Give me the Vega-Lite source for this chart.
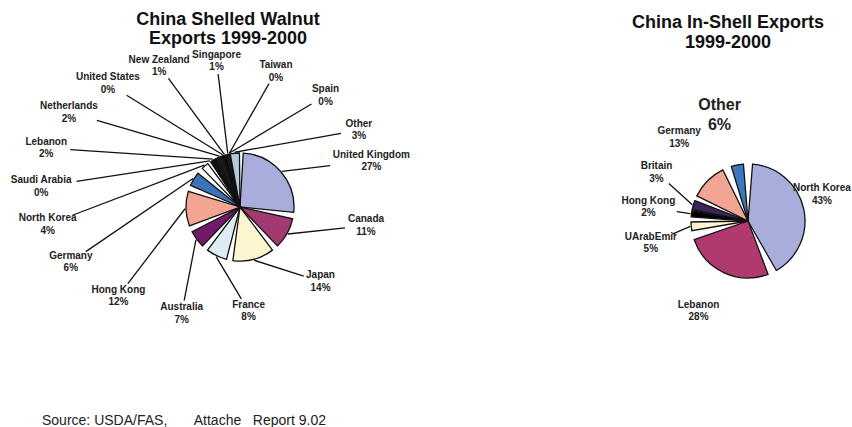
{
  "$schema": "https://vega.github.io/schema/vega-lite/v6.json",
  "background": "white",
  "padding": {"top": 10, "left": 0, "right": 0, "bottom": 0},
  "config": {
    "view": {"stroke": null, "fill": "white"},
    "font": "Liberation Sans"
  },
  "spacing": 164,
  "bounds": "flush",
  "resolve": {"scale": {"color": "independent", "x": "independent", "y": "independent", "theta": "independent"}},
  "title": {
    "text": "Source: USDA/FAS,\u00a0\u00a0\u00a0\u00a0\u00a0\u00a0 Attache\u00a0\u00a0 Report 9.02",
    "orient": "bottom",
    "anchor": "start",
    "frame": "bounds",
    "dx": 42,
    "offset": 24,
    "fontSize": 14,
    "fontWeight": "normal",
    "color": "#222"
  },
  "hconcat": [
    {
      "width": 480,
      "height": 310,
      "title": {
        "text": ["China Shelled Walnut", "Exports 1999-2000"],
        "frame": "group",
        "fontSize": 18,
        "fontWeight": "bold",
        "lineHeight": 19,
        "anchor": "middle",
        "dx": -12,
        "offset": 2,
        "color": "#111"
      },
      "data": {
        "values": [
          {"country": "United Kingdom", "share": 27},
          {"country": "Canada", "share": 11},
          {"country": "Japan", "share": 14},
          {"country": "France", "share": 8},
          {"country": "Australia", "share": 7},
          {"country": "Hong Kong", "share": 12},
          {"country": "Germany", "share": 6},
          {"country": "North Korea", "share": 4},
          {"country": "Saudi Arabia", "share": 0},
          {"country": "Lebanon", "share": 2},
          {"country": "Netherlands", "share": 2},
          {"country": "United States", "share": 0},
          {"country": "New Zealand", "share": 1},
          {"country": "Singapore", "share": 1},
          {"country": "Taiwan", "share": 0},
          {"country": "Spain", "share": 0},
          {"country": "Other", "share": 3}
        ]
      },
      "transform": [
        {"window": [{"op": "row_number", "as": "idx"}, {"op": "sum", "field": "share", "as": "cum"}], "frame": [null, 0]},
        {"joinaggregate": [{"op": "sum", "field": "share", "as": "total"}, {"op": "count", "as": "n"}]},
        {"calculate": "(datum.cum - datum.share) / datum.total", "as": "f0"},
        {"calculate": "datum.cum / datum.total", "as": "f1"},
        {"calculate": "PI * (datum.f0 + datum.f1)", "as": "mid"},
        {"calculate": "75 * PI / 180 + (datum.idx - 1) * 2 * PI / datum.n", "as": "u"},
        {"calculate": "datum.u + 0.4 * max(0, datum.mid - datum.u)", "as": "t0"},
        {"calculate": "datum.t0 - datum.idx * 18 * PI / 180", "as": "v"},
        {"window": [{"op": "max", "field": "v", "as": "vmax"}], "frame": [null, 0]},
        {"window": [{"op": "min", "field": "v", "as": "vmin"}], "frame": [0, null]},
        {"calculate": "datum.idx * 18 * PI / 180 + 0.65 * datum.vmax + 0.35 * datum.vmin", "as": "t"},
        {"calculate": "-33 + (165 + 20 * max(0, cos(datum.t))) * sin(datum.t)", "as": "lx"},
        {"calculate": "14 + (122 + 10 * max(0, cos(datum.t))) * cos(datum.t)", "as": "ly"},
        {"calculate": "55 * sin(datum.mid)", "as": "ex"},
        {"calculate": "55 * cos(datum.mid)", "as": "ey"},
        {"calculate": "sqrt(pow(datum.ex - datum.lx, 2) + pow(datum.ey - datum.ly, 2))", "as": "d"},
        {"calculate": "(datum.ex - datum.lx) / datum.d", "as": "ux"},
        {"calculate": "(datum.ey - datum.ly) / datum.d", "as": "uy"},
        {"calculate": "1 / sqrt(pow(datum.ux / (length(datum.country) * 2.9 + 4), 2) + pow(datum.uy / 13, 2))", "as": "g"},
        {"calculate": "datum.lx + datum.ux * datum.g", "as": "sx"},
        {"calculate": "datum.ly + datum.uy * datum.g", "as": "sy"},
        {"calculate": "datum.country + '\\n' + datum.share + '%'", "as": "label"}
      ],
      "layer": [
        {
          "mark": {"type": "arc", "radius": 54, "stroke": "#111", "strokeWidth": 1.3, "padAngle": {"expr": "datum.share >= 4 ? 0.12 : 0.02"}},
          "encoding": {
            "theta": {"field": "f0", "type": "quantitative", "stack": null, "scale": {"domain": [0, 1], "range": [0, 6.283185307]}},
            "theta2": {"field": "f1"},
            "color": {
              "field": "country",
              "type": "nominal",
              "legend": null,
              "scale": {
                "domain": ["United Kingdom", "Canada", "Japan", "France", "Australia", "Hong Kong", "Germany", "North Korea", "Saudi Arabia", "Lebanon", "Netherlands", "United States", "New Zealand", "Singapore", "Taiwan", "Spain", "Other"],
                "range": ["#a9addb", "#a23a72", "#fbf6d0", "#dcecf0", "#74196a", "#f1a592", "#3b73b9", "#ffffff", "#000000", "#111111", "#1a1a1a", "#000000", "#000000", "#222222", "#000000", "#000000", "#b5c9dc"]
              }
            }
          }
        },
        {
          "mark": {"type": "rule", "strokeWidth": 1.3, "color": "#111"},
          "encoding": {
            "x": {"field": "sx", "type": "quantitative", "axis": null, "scale": {"domain": [-240, 240], "nice": false, "zero": false}},
            "y": {"field": "sy", "type": "quantitative", "axis": null, "scale": {"domain": [-155, 155], "nice": false, "zero": false}},
            "x2": {"field": "ex"},
            "y2": {"field": "ey"}
          }
        },
        {
          "mark": {"type": "text", "fontSize": 10, "fontWeight": "bold", "lineBreak": "\n", "lineHeight": 12.5, "align": "center", "baseline": "middle", "dy": -6.25, "color": "#222"},
          "encoding": {
            "x": {"field": "lx", "type": "quantitative"},
            "y": {"field": "ly", "type": "quantitative"},
            "text": {"field": "label"}
          }
        }
      ]
    },
    {
      "width": 208,
      "height": 338,
      "title": {
        "text": ["China In-Shell Exports", "1999-2000"],
        "frame": "group",
        "fontSize": 18,
        "fontWeight": "bold",
        "lineHeight": 20,
        "anchor": "middle",
        "dx": -20,
        "offset": 0,
        "color": "#111"
      },
      "data": {
        "values": [
          {"country": "North Korea", "share": 43},
          {"country": "Lebanon", "share": 28},
          {"country": "UArabEmir", "share": 5},
          {"country": "Hong Kong", "share": 2},
          {"country": "Britain", "share": 3},
          {"country": "Germany", "share": 13},
          {"country": "Other", "share": 6}
        ]
      },
      "transform": [
        {"window": [{"op": "row_number", "as": "idx"}, {"op": "sum", "field": "share", "as": "cum"}], "frame": [null, 0]},
        {"joinaggregate": [{"op": "sum", "field": "share", "as": "total"}]},
        {"calculate": "(datum.cum - datum.share) / datum.total", "as": "f0"},
        {"calculate": "datum.cum / datum.total", "as": "f1"},
        {"calculate": "PI * (datum.f0 + datum.f1)", "as": "mid"},
        {"calculate": "datum.mid - datum.idx * 20 * PI / 180", "as": "v"},
        {"window": [{"op": "max", "field": "v", "as": "vmax"}], "frame": [null, 0]},
        {"window": [{"op": "min", "field": "v", "as": "vmin"}], "frame": [0, null]},
        {"calculate": "datum.idx * 20 * PI / 180 + (datum.vmax + datum.vmin) / 2", "as": "t"},
        {"calculate": "-12 + 88 * sin(datum.t)", "as": "lx"},
        {"calculate": "4 + 104 * cos(datum.t)", "as": "ly"},
        {"calculate": "58 * sin(datum.mid)", "as": "ex"},
        {"calculate": "58 * cos(datum.mid)", "as": "ey"},
        {"calculate": "sqrt(pow(datum.ex - datum.lx, 2) + pow(datum.ey - datum.ly, 2))", "as": "d"},
        {"calculate": "(datum.ex - datum.lx) / datum.d", "as": "ux"},
        {"calculate": "(datum.ey - datum.ly) / datum.d", "as": "uy"},
        {"calculate": "1 / sqrt(pow(datum.ux / (length(datum.country) * 2.9 + 4), 2) + pow(datum.uy / 13, 2))", "as": "g"},
        {"calculate": "datum.lx + datum.ux * datum.g", "as": "sx"},
        {"calculate": "datum.ly + datum.uy * datum.g", "as": "sy"},
        {"calculate": "datum.country + '\\n' + datum.share + '%'", "as": "label"}
      ],
      "layer": [
        {
          "mark": {"type": "arc", "radius": 57, "stroke": "#111", "strokeWidth": 1.3, "padAngle": {"expr": "datum.share >= 5 ? 0.16 : 0.02"}},
          "encoding": {
            "theta": {"field": "f0", "type": "quantitative", "stack": null, "scale": {"domain": [0, 1], "range": [0, 6.283185307]}},
            "theta2": {"field": "f1"},
            "color": {
              "field": "country",
              "type": "nominal",
              "legend": null,
              "scale": {
                "domain": ["North Korea", "Lebanon", "UArabEmir", "Hong Kong", "Britain", "Germany", "Other"],
                "range": ["#a9addb", "#b03a70", "#fbf6d0", "#000000", "#3b2559", "#f1a592", "#3b78bd"]
              }
            }
          }
        },
        {
          "transform": [{"filter": "datum.share <= 5"}],
          "mark": {"type": "rule", "strokeWidth": 1.3, "color": "#111"},
          "encoding": {
            "x": {"field": "sx", "type": "quantitative", "axis": null, "scale": {"domain": [-104, 104], "nice": false, "zero": false}},
            "y": {"field": "sy", "type": "quantitative", "axis": null, "scale": {"domain": [-169, 169], "nice": false, "zero": false}},
            "x2": {"field": "ex"},
            "y2": {"field": "ey"}
          }
        },
        {
          "transform": [{"filter": "datum.country != 'Other'"}],
          "mark": {"type": "text", "fontSize": 10, "fontWeight": "bold", "lineBreak": "\n", "lineHeight": 12.5, "align": "center", "baseline": "middle", "dy": -6.25, "color": "#222"},
          "encoding": {
            "x": {"field": "lx", "type": "quantitative"},
            "y": {"field": "ly", "type": "quantitative"},
            "text": {"field": "label"}
          }
        },
        {
          "transform": [{"filter": "datum.country == 'Other'"}],
          "mark": {"type": "text", "fontSize": 16, "fontWeight": "bold", "lineBreak": "\n", "lineHeight": 20, "align": "center", "baseline": "middle", "dy": -10, "color": "#222"},
          "encoding": {
            "x": {"field": "lx", "type": "quantitative"},
            "y": {"field": "ly", "type": "quantitative"},
            "text": {"field": "label"}
          }
        }
      ]
    }
  ]
}
